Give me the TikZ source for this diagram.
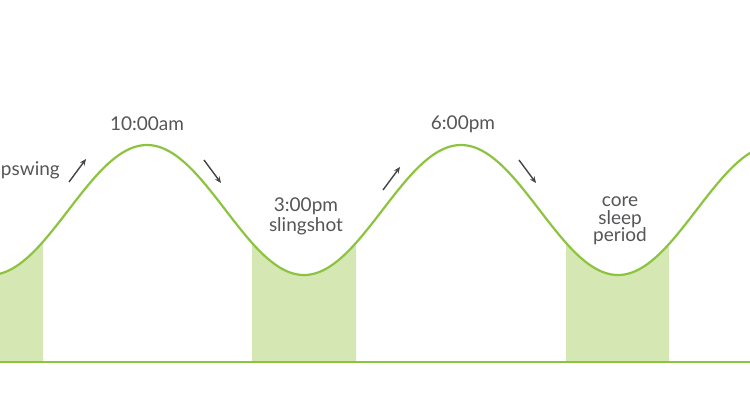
\documentclass[tikz,border=0pt]{standalone}
\usepackage{fontspec}
\setmainfont{Lato}
\usetikzlibrary{arrows.meta}
\definecolor{wave}{HTML}{8CC43F}
\definecolor{troughgreen}{HTML}{D5E7B2}
\definecolor{txt}{HTML}{555658}
\definecolor{arr}{HTML}{444444}
\tikzset{
  lbl/.style={text=txt, font=\fontsize{19}{20}\selectfont, inner sep=0pt, align=center},
  trend/.style={draw=arr, line width=1.4pt, -{Stealth[length=6.5pt,width=5.5pt]}},
  wavecurve/.style={draw=wave, line width=2.2pt},
  trough/.style={fill=troughgreen, draw=none},
}
\newcommand{\wy}[1]{210-65*cos(((#1)-147)/314*360)}
\begin{document}
\begin{tikzpicture}[x=1pt,y=-1pt]
\useasboundingbox (0,0) rectangle (750,400);
\begin{scope}
\clip (0,0) rectangle (750,400);
\fill[white] (0,0) rectangle (750,400);
% shaded troughs
\path[trough] (-5,362) -- plot[domain=-5:43,samples=40] (\x,{\wy{\x}}) -- (43,362) -- cycle;
\path[trough] (252,362) -- plot[domain=252:356,samples=60] (\x,{\wy{\x}}) -- (356,362) -- cycle;
\path[trough] (566,362) -- plot[domain=566:669,samples=60] (\x,{\wy{\x}}) -- (669,362) -- cycle;
% wave
\draw[wavecurve] plot[domain=-20:770,samples=240,smooth] (\x,{\wy{\x}});
% baseline
\coordinate (bl) at (0,362);
\coordinate (br) at (750,362);
\draw[draw=wave, line width=2.2pt] (bl) -- (br);
% labels
\node[lbl, anchor=east] (up) at (60,170) {upswing};
\node[lbl] (ten) at (147,124) {10:00am};
\node[lbl] (three) at (306,216) {3:00pm\\slingshot};
\node[lbl] (six) at (463,124) {6:00pm};
\node[lbl, font=\fontsize{19}{17.5}\selectfont] (core) at (620,221) {core\\sleep\\period};
% trend arrows
\coordinate (a1s) at (69,182); \coordinate (a1e) at (86,159);
\coordinate (a2s) at (204,160); \coordinate (a2e) at (221,183);
\coordinate (a3s) at (383,190); \coordinate (a3e) at (400,167);
\coordinate (a4s) at (519,160); \coordinate (a4e) at (536,183);
\draw[trend] (a1s) -- (a1e);
\draw[trend] (a2s) -- (a2e);
\draw[trend] (a3s) -- (a3e);
\draw[trend] (a4s) -- (a4e);
\end{scope}
\end{tikzpicture}
\end{document}
